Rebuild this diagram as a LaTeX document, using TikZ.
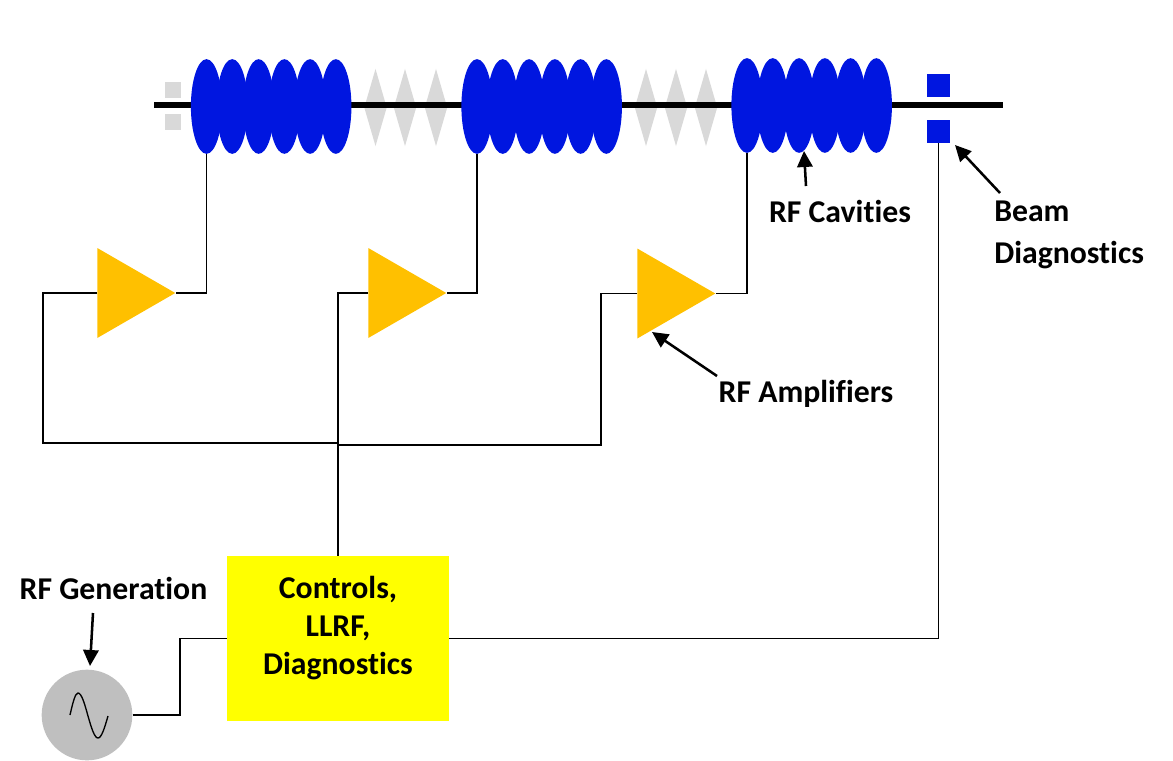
\documentclass[tikz,border=0pt]{standalone}
\usepackage{fontspec}
\setmainfont[Ligatures=NoCommon]{Carlito}
\usepackage{tikz}
\usetikzlibrary{shapes.geometric, arrows.meta}
\definecolor{cavblue}{HTML}{0016E0}
\definecolor{ampgold}{HTML}{FFC000}
\definecolor{palegray}{HTML}{D9D9D9}
\definecolor{gengray}{HTML}{BFBFBF}
\definecolor{ctrlyellow}{HTML}{FFFF00}
\tikzstyle{cavity} = [ellipse, inner sep=0pt, minimum width=23.4pt, minimum height=71pt, fill=cavblue]
\tikzstyle{crab} = [diamond, inner sep=0pt, minimum width=17pt, minimum height=58pt, fill=palegray]
\tikzstyle{amp} = [isosceles triangle, isosceles triangle stretches, shape border rotate=0, inner sep=0pt, minimum width=67.5pt, minimum height=58.5pt, fill=ampgold, anchor=lower side]
\tikzstyle{pickup} = [rectangle, inner sep=0pt, minimum size=17.25pt, fill=cavblue]
\tikzstyle{oldpickup} = [rectangle, inner sep=0pt, minimum size=12pt, fill=palegray]
\tikzstyle{ctrl} = [rectangle, inner sep=0pt, minimum width=166.5pt, minimum height=124pt, align=center, fill=ctrlyellow, font=\fontsize{23.8}{28.5}\selectfont\bfseries]
\tikzstyle{gensrc} = [circle, inner sep=0pt, minimum size=68pt, fill=gengray]
\tikzstyle{tag} = [inner sep=0pt, align=center, font=\fontsize{23.8}{31.5}\selectfont\bfseries]
\tikzstyle{wire} = [line width=1.4pt, black]
\tikzstyle{arrow} = [line width=1.9pt, -{Triangle[length=12pt,width=11.5pt]}]
\begin{document}
\begin{tikzpicture}[x=0.75pt, y=-0.75pt, node distance=19.3pt]
\useasboundingbox (0,0) rectangle (1173,760);

\node (crabA1) [crab] at (375.5,107.5) {};
\node (crabA2) [crab] at (405,107.5) {};
\node (crabA3) [crab] at (436,107.5) {};
\node (crabB1) [crab] at (646,107.5) {};
\node (crabB2) [crab] at (676,107.5) {};
\node (crabB3) [crab] at (706,107.5) {};
\node (oldU) [oldpickup] at (173,90) {};
\node (oldD) [oldpickup] at (173,122) {};

\coordinate (beamL) at (154,105);
\coordinate (beamR) at (1003,105);
\draw [line width=3.9pt] (beamL) -- (beamR);

\node (cavA1) [cavity] at (206.5,106.5) {};
\node (cavA2) [cavity, right of=cavA1] {};
\node (cavA3) [cavity, right of=cavA2, xshift=0.5pt] {};
\node (cavA4) [cavity, right of=cavA3] {};
\node (cavA5) [cavity, right of=cavA4] {};
\node (cavA6) [cavity, right of=cavA5] {};
\node (cavB1) [cavity] at (477,106.5) {};
\node (cavB2) [cavity, right of=cavB1] {};
\node (cavB3) [cavity, right of=cavB2, xshift=0.5pt] {};
\node (cavB4) [cavity, right of=cavB3] {};
\node (cavB5) [cavity, right of=cavB4] {};
\node (cavB6) [cavity, right of=cavB5] {};
\node (cavC1) [cavity] at (747,105.5) {};
\node (cavC2) [cavity, right of=cavC1] {};
\node (cavC3) [cavity, right of=cavC2, xshift=0.5pt] {};
\node (cavC4) [cavity, right of=cavC3] {};
\node (cavC5) [cavity, right of=cavC4] {};
\node (cavC6) [cavity, right of=cavC5] {};

\node (pickU) [pickup] at (938.5,85.5) {};
\node (pickD) [pickup] at (938.5,131.5) {};

\node (amp1) [amp] at (97,293) {};
\node (amp2) [amp] at (368,293) {};
\node (amp3) [amp] at (637,293.5) {};

\node (ctrl) [ctrl] at (338,638.5) {Controls,\\LLRF,\\Diagnostics\\[-9pt]\mbox{}};
\node (gen) [gensrc] at (87,715) {};
\draw [line width=1pt] (70,715) sin ++(8,-22) cos ++(10,23) sin ++(10,22) cos ++(10,-22);

\node (tagcav) [tag] at (840,211) {RF Cavities};
\node (tagbeam) [tag, align=left, anchor=west] at (994,235) {Beam\\Diagnostics};
\node (tagamp) [tag] at (806,394) {RF Amplifiers};
\node (taggen) [tag] at (113.5,588.5) {RF Generation};

\coordinate (feedA) at (43,443);
\coordinate (feedC) at (601,445);
\coordinate (genbend) at (180,638.5);
\coordinate (cavtail) at (806,186);
\coordinate (cavhead) at (804,151);
\coordinate (beamtail) at (1000,193);
\coordinate (beamhead) at (955,145);
\coordinate (amptail) at (717,376);
\coordinate (amphead) at (652,332);
\coordinate (gentail) at (93,613);
\coordinate (genhead) at (90,666);

\draw [wire] (cavA1.south) |- (amp1.apex);
\draw [wire] (cavB1.south) |- (amp2.apex);
\draw [wire] (cavC1.south) |- (amp3.apex);
\draw [wire] (amp1.lower side) -| (feedA) -- (feedA -| ctrl.north);
\draw [wire] (amp2.lower side) -| (ctrl.north);
\draw [wire] (amp3.lower side) -| (feedC) -- (feedC -| ctrl.north);
\draw [wire, line width=1.7pt] (feedA -| ctrl.north) -- (ctrl.north);
\draw [wire] (gen.east) -| (genbend) -- (ctrl.west);
\draw [wire] (ctrl.east) -| (pickD.south);

\draw [arrow] (cavtail) -- (cavhead);
\draw [arrow] (beamtail) -- (beamhead);
\draw [arrow] (amptail) -- (amphead);
\draw [arrow] (gentail) -- (genhead);
\end{tikzpicture}
\end{document}
